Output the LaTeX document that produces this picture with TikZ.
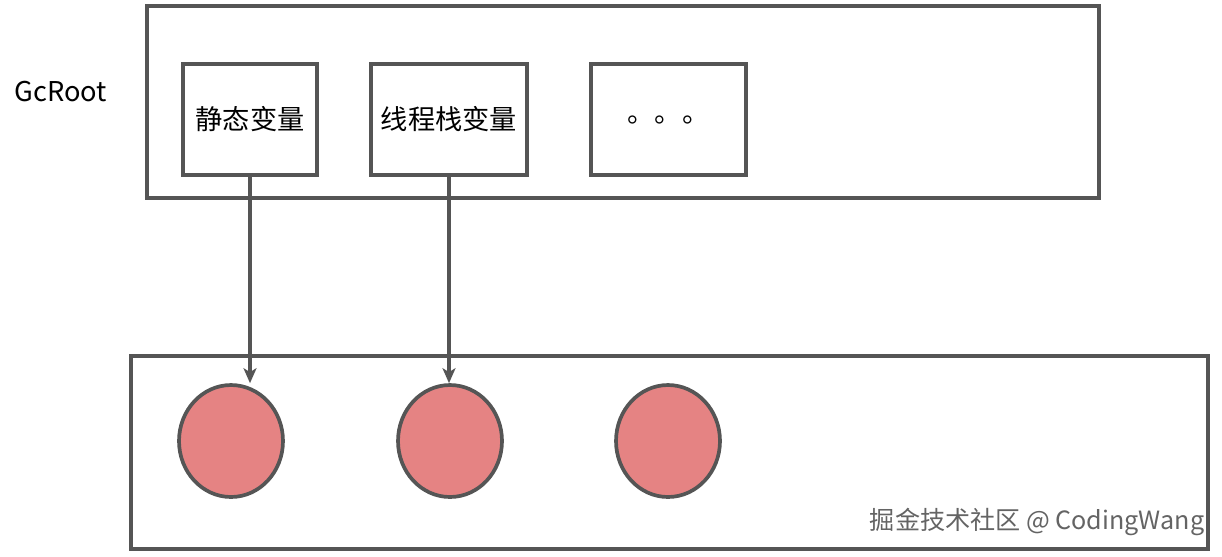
\documentclass[tikz,border=0pt]{standalone}
\usepackage{fontspec}
\setmainfont{Noto Sans CJK SC}
\usetikzlibrary{positioning, arrows.meta, shapes.geometric}
\definecolor{gcline}{RGB}{85, 85, 85}
\definecolor{gcred}{RGB}{229, 131, 131}
\definecolor{gcmark}{RGB}{100, 100, 100}

\begin{document}
\begin{tikzpicture}[
    x=0.02cm, y=-0.02cm,
    frame/.style={rectangle, draw=gcline, line width=2.1pt, inner sep=0pt},
    rootbox/.style={frame, minimum height=2.22cm, align=center,
                    font=\fontsize{15.5}{18}\selectfont},
    obj/.style={ellipse, draw=gcline, line width=2.1pt, fill=gcred,
                minimum width=2.08cm, minimum height=2.24cm, inner sep=0pt},
    arrow/.style={-{Stealth[length=3mm, width=2.6mm, inset=0.8mm]},
                  line width=2.1pt, color=gcline}
  ]
    \useasboundingbox (0,0) rectangle (1222,556);

    \node[frame, minimum width=19.04cm, minimum height=3.84cm] (roots) at (623,102) {};
    \node[frame, minimum width=21.54cm, minimum height=3.86cm] (heap) at (669.5,452.5) {};

    \node[font=\fontsize{15.5}{18}\selectfont] (gc) at (61,92) {GcRoot};

    \node[rootbox, minimum width=2.68cm] (sv) at (250,119.5) {静态变量};
    \node[rootbox, minimum width=3.12cm] (tv) at (449,119.5) {线程栈变量};
    \node[rootbox, minimum width=3.10cm] (etc) at (668.5,119.5) {。。。};

    \node[obj] (o1) at (231,441) {};
    \node[obj] (o2) at (450,441) {};
    \node[obj] (o3) at (668,441) {};

    \draw[arrow] (sv.south) -- (sv.south |- o1.north);
    \draw[arrow] (tv.south) -- (tv.south |- o2.north);

    \node[text=gcmark, font=\fontsize{14.3}{16}\selectfont] (mark) at (1037,522) {掘金技术社区 @ CodingWang};
  \end{tikzpicture}
\end{document}
